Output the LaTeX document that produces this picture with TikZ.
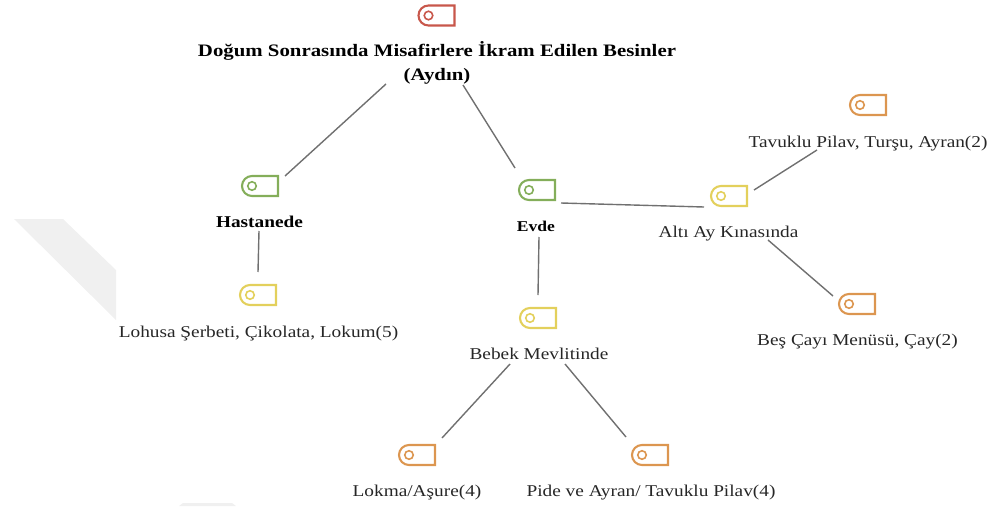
\documentclass[tikz,border=0pt]{standalone}
\usepackage{fontspec}
\setmainfont[FakeStretch=1.17]{Liberation Serif}
\newfontfamily\titlefont[FakeStretch=1.19]{Liberation Serif}
\usetikzlibrary{shapes.misc}
\definecolor{cred}{HTML}{C8574B}
\definecolor{cgreen}{HTML}{84AE5A}
\definecolor{cyellow}{HTML}{E3D05C}
\definecolor{corange}{HTML}{DC9650}
\definecolor{cline}{HTML}{707070}
\definecolor{wm}{HTML}{F0F0F0}
\tikzset{
  x=1pt,y=-1pt,
  tagicon/.style={shape=rounded rectangle,rounded rectangle east arc=none,
    draw=#1,line width=2.1pt,minimum width=36pt,minimum height=20pt,inner sep=0pt,outer sep=0pt},
  ring/.style={circle,draw=#1,line width=1.6pt,minimum size=8.5pt,inner sep=0pt},
  lab/.style={font=\fontsize{16.5}{24}\selectfont,text=black!85,inner sep=0pt,align=center,anchor=base},
  blab/.style={font=\fontsize{16.5}{24}\selectfont\bfseries,text=black,inner sep=0pt,align=center,anchor=base},
  tlab/.style={font=\fontsize{17.5}{24}\selectfont\titlefont\bfseries,text=black,inner sep=0pt,align=center},
  conn/.style={draw=cline,line width=1.4pt},
}
\newcommand{\tagat}[4]{\node[tagicon=#4] (#1) at (#2,#3) {};\node[ring=#4] (#1r) at (#2-8,#3) {};}
\begin{document}
\begin{tikzpicture}
\useasboundingbox (0,0) rectangle (992,506);
\fill[wm] (14,219) -- (63,219) -- (116,270) -- (116,320) -- cycle;
\fill[wm] (179,506) -- (183,503) -- (232,503) -- (236,506) -- cycle;
\tagat{root}{436.5}{15.5}{cred}
\tagat{hast}{260}{186}{cgreen}
\tagat{evde}{537}{190}{cgreen}
\tagat{lohusa}{258}{295}{cyellow}
\tagat{alti}{729}{196}{cyellow}
\tagat{tavuk}{868}{105}{corange}
\tagat{bes}{857}{304}{corange}
\tagat{bebek}{538}{318}{cyellow}
\tagat{lokma}{417}{455}{corange}
\tagat{pide}{650}{455}{corange}
\node[tlab] (troot) at (437,63) {Doğum Sonrasında Misafirlere İkram Edilen Besinler\\(Aydın)};
\node[blab] (thast) at (259.5,227.5) {Hastanede};
\node[blab,font=\fontsize{15}{24}\selectfont\bfseries] (tevde) at (536,231) {Evde};
\node[lab] (tlohusa) at (258.5,337) {Lohusa Şerbeti, Çikolata, Lokum(5)};
\node[lab] (talti) at (728.5,237) {Altı Ay Kınasında};
\node[lab] (ttavuk) at (868,147) {Tavuklu Pilav, Turşu, Ayran(2)};
\node[lab] (tbes) at (857.5,345) {Beş Çayı Menüsü, Çay(2)};
\node[lab] (tbebek) at (539,359) {Bebek Mevlitinde};
\node[lab] (tlokma) at (417,496) {Lokma/Aşure(4)};
\node[lab] (tpide) at (651,496) {Pide ve Ayran/ Tavuklu Pilav(4)};
\coordinate (a1) at (386,84); \coordinate (a2) at (285,176);
\coordinate (b1) at (463,85); \coordinate (b2) at (515,168);
\coordinate (c1) at (259,231); \coordinate (c2) at (258,272);
\coordinate (d1) at (561,203); \coordinate (d2) at (704,207);
\coordinate (e1) at (539,237); \coordinate (e2) at (538,295);
\coordinate (f1) at (754,190); \coordinate (f2) at (817,150);
\coordinate (g1) at (768,240); \coordinate (g2) at (833,296);
\coordinate (h1) at (510,364); \coordinate (h2) at (442,438);
\coordinate (i1) at (565,364); \coordinate (i2) at (626,437);
\foreach \p/\q in {a1/a2,b1/b2,c1/c2,d1/d2,e1/e2,f1/f2,g1/g2,h1/h2,i1/i2}{\draw[conn] (\p) -- (\q);}
\end{tikzpicture}
\end{document}
